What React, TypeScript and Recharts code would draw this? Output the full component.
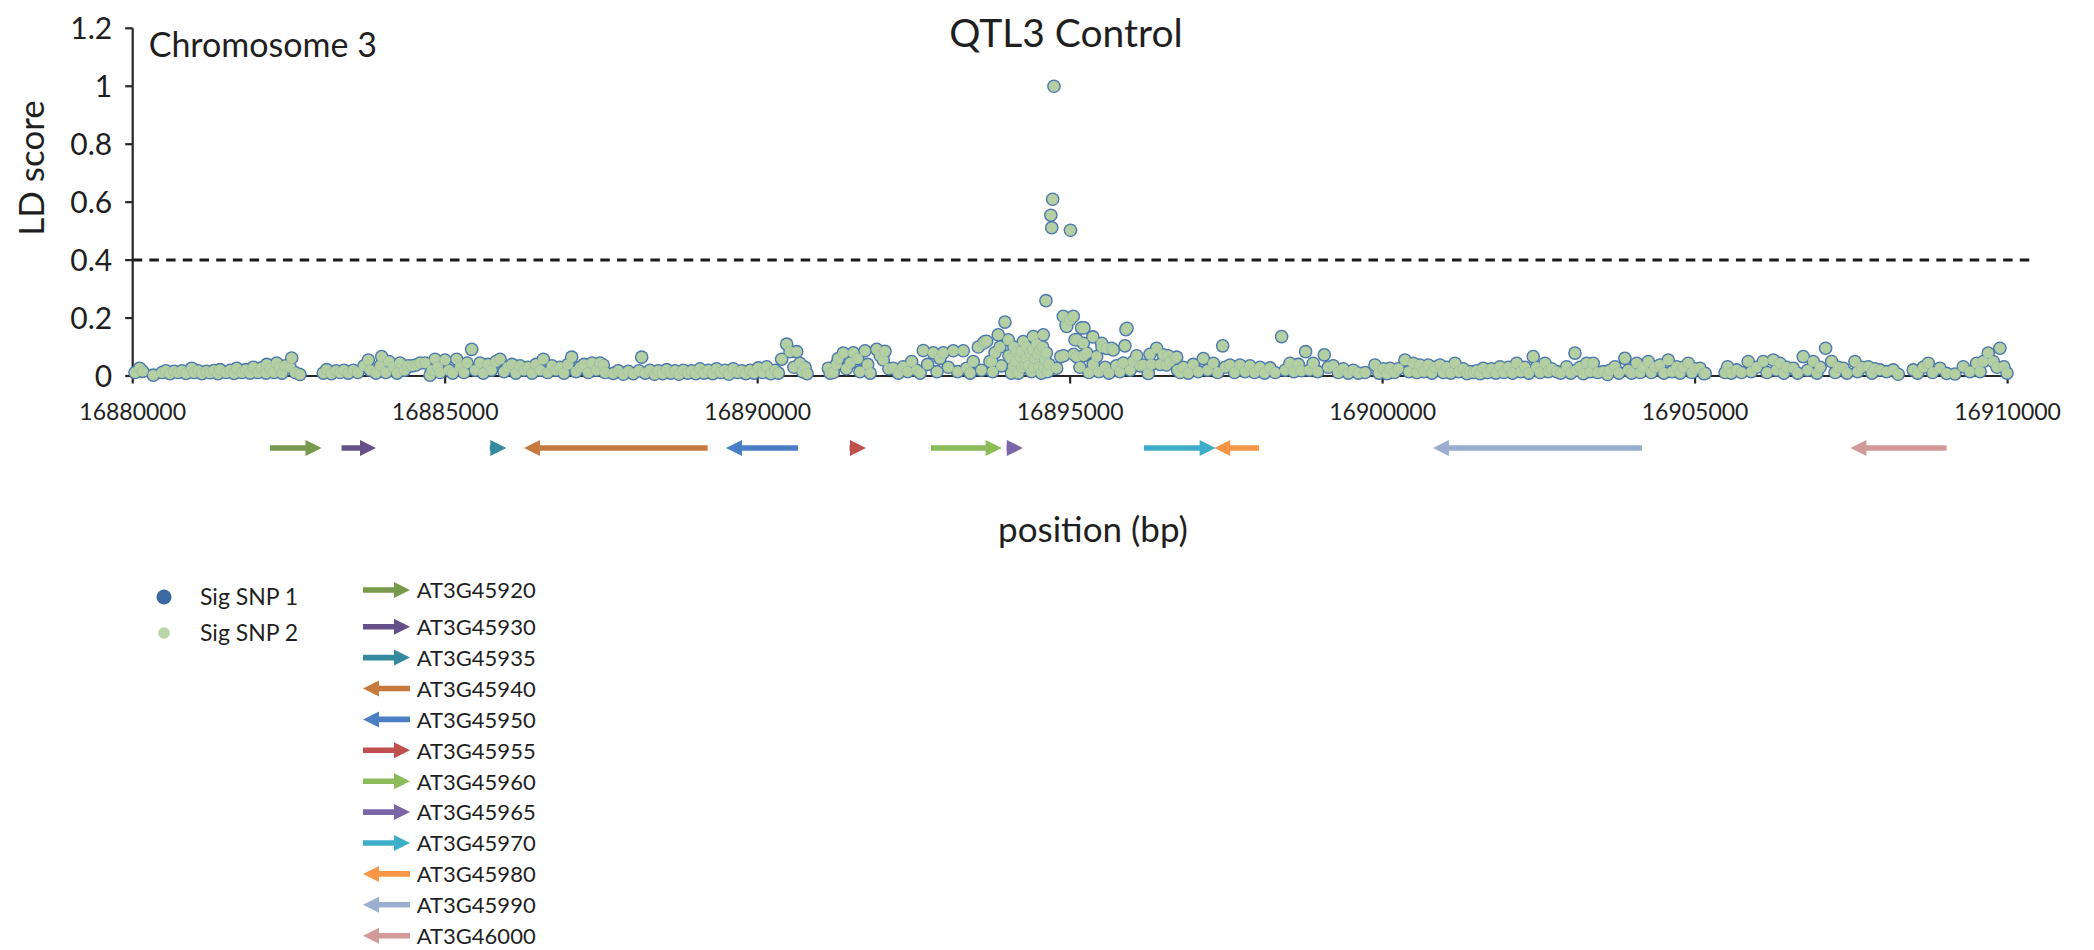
import { ReferenceArea, ReferenceLine, Scatter, ScatterChart, XAxis, YAxis } from "recharts";

const FONT = "Lato, 'Open Sans', sans-serif";
const INK = "#1f1f1f";
const SNP_FILL = "#b4d0a3";
const SNP_EDGE = "#4a76ae";

const WIDTH = 2094;
const PLOT_LEFT = 132.7;
const PLOT_RIGHT_GAP = 86.4;
const PLOT_TOP = 28.3;

const positionDomain: [number, number] = [16880000, 16910000];
const positionTicks = [16880000, 16885000, 16890000, 16895000, 16900000, 16905000, 16910000];
const ldTicks = [0, 0.2, 0.4, 0.6, 0.8, 1, 1.2];
const ldThreshold = 0.4;
const thresholdEnd = 16910390;

// [position bp, LD score]
const snpsWest: [number, number][] = [
  [16880037, 0.012], [16880110, 0.027], [16880160, 0.016], [16880330, 0.003],
  [16880469, 0.012], [16880530, 0.018], [16880597, 0.008], [16880660, 0.016], [16880725, 0.012],
  [16880790, 0.018], [16880853, 0.009], [16880944, 0.027], [16880981, 0.012], [16881050, 0.018],
  [16881109, 0.008], [16881180, 0.016], [16881237, 0.011], [16881300, 0.019], [16881365, 0.008],
  [16881397, 0.022], [16881493, 0.012], [16881560, 0.02], [16881621, 0.009], [16881664, 0.027],
  [16881749, 0.012], [16881810, 0.022], [16881877, 0.01], [16881930, 0.03], [16882005, 0.012],
  [16882060, 0.028], [16882133, 0.01], [16882144, 0.04], [16882200, 0.025], [16882261, 0.012],
  [16882304, 0.045], [16882350, 0.03], [16882389, 0.01], [16882440, 0.035], [16882517, 0.03],
  [16882544, 0.062], [16882600, 0.012], [16882677, 0.005],
  [16883050, 0.01], [16883104, 0.022], [16883180, 0.008], [16883253, 0.018], [16883317, 0.012],
  [16883381, 0.02], [16883450, 0.01], [16883530, 0.02], [16883600, 0.012], [16883700, 0.035],
  [16883770, 0.055], [16883800, 0.02], [16883893, 0.01], [16883960, 0.035], [16883984, 0.067],
  [16884050, 0.012], [16884100, 0.05], [16884170, 0.03], [16884230, 0.01], [16884277, 0.045],
  [16884350, 0.02], [16884405, 0.035], [16884470, 0.035], [16884533, 0.038], [16884600, 0.045],
  [16884680, 0.045], [16884757, 0.003], [16884790, 0.02], [16884837, 0.058], [16884880, 0.03],
  [16884917, 0.012], [16884997, 0.055], [16885060, 0.02], [16885120, 0.01], [16885184, 0.058],
  [16885240, 0.03], [16885300, 0.012], [16885350, 0.045], [16885424, 0.092], [16885480, 0.02],
  [16885557, 0.045], [16885610, 0.01], [16885685, 0.04], [16885740, 0.02], [16885813, 0.05],
  [16885877, 0.058], [16885941, 0.015], [16886000, 0.03], [16886069, 0.04], [16886130, 0.01],
  [16886197, 0.035], [16886260, 0.02], [16886325, 0.03], [16886390, 0.01], [16886453, 0.04],
  [16886520, 0.02], [16886570, 0.058], [16886640, 0.012], [16886709, 0.035], [16886770, 0.02],
  [16886837, 0.03], [16886900, 0.01], [16886965, 0.04], [16887024, 0.065], [16887093, 0.015],
  [16887160, 0.03], [16887221, 0.04], [16887290, 0.012], [16887349, 0.045], [16887420, 0.02],
  [16887477, 0.045],
];

const snpsMiddle: [number, number][] = [
  [16887530, 0.038], [16887560, 0.012], [16887690, 0.009], [16887770, 0.018], [16887850, 0.006],
  [16887930, 0.016], [16888010, 0.008], [16888100, 0.018], [16888144, 0.065], [16888200, 0.01],
  [16888277, 0.02], [16888350, 0.006], [16888410, 0.018], [16888480, 0.008], [16888544, 0.022],
  [16888610, 0.01], [16888677, 0.018], [16888740, 0.006], [16888810, 0.02], [16888880, 0.01],
  [16888944, 0.018], [16889010, 0.008], [16889077, 0.025], [16889140, 0.01], [16889210, 0.02],
  [16889280, 0.008], [16889344, 0.025], [16889410, 0.012], [16889477, 0.02], [16889540, 0.006],
  [16889610, 0.025], [16889680, 0.012], [16889744, 0.018], [16889810, 0.008], [16889877, 0.02],
  [16889940, 0.01], [16890010, 0.028], [16890080, 0.012], [16890144, 0.032], [16890210, 0.008],
  [16890277, 0.02], [16890330, 0.01], [16890384, 0.058], [16890464, 0.11], [16890517, 0.084],
  [16890580, 0.03], [16890624, 0.084], [16890677, 0.044], [16890720, 0.015], [16890757, 0.03],
  [16890790, 0.008],
  [16891130, 0.027], [16891160, 0.01], [16891210, 0.012], [16891260, 0.04], [16891290, 0.06],
  [16891370, 0.079], [16891420, 0.025], [16891480, 0.045], [16891530, 0.08], [16891600, 0.06],
  [16891637, 0.015], [16891717, 0.087], [16891760, 0.04], [16891800, 0.01], [16891904, 0.092],
  [16891960, 0.07], [16892010, 0.055], [16892037, 0.085], [16892100, 0.025], [16892170, 0.027],
  [16892250, 0.01], [16892330, 0.032], [16892400, 0.015], [16892464, 0.05], [16892544, 0.02],
  [16892600, 0.01], [16892650, 0.088], [16892720, 0.04], [16892810, 0.08], [16892870, 0.015],
  [16892917, 0.061], [16892970, 0.08], [16893050, 0.03], [16893130, 0.087], [16893200, 0.015],
  [16893290, 0.087], [16893344, 0.027], [16893400, 0.01],
];

const snpsPeak: [number, number][] = [
  [16893450, 0.05], [16893530, 0.1], [16893580, 0.02], [16893610, 0.113], [16893637, 0.119],
  [16893664, 0.12], [16893717, 0.05], [16893744, 0.05], [16893760, 0.015], [16893797, 0.08],
  [16893850, 0.142], [16893877, 0.1], [16893900, 0.035], [16893957, 0.186], [16894010, 0.125],
  [16894020, 0.07], [16894050, 0.06], [16894060, 0.01], [16894090, 0.032], [16894100, 0.1],
  [16894130, 0.05], [16894144, 0.084], [16894170, 0.01], [16894197, 0.067], [16894220, 0.085],
  [16894230, 0.03], [16894250, 0.119], [16894280, 0.04], [16894300, 0.06], [16894304, 0.1],
  [16894330, 0.035], [16894357, 0.079], [16894380, 0.015], [16894400, 0.09], [16894410, 0.136],
  [16894420, 0.03], [16894440, 0.06], [16894464, 0.11], [16894480, 0.075], [16894500, 0.03],
  [16894517, 0.09], [16894540, 0.01], [16894560, 0.1], [16894570, 0.142], [16894580, 0.03],
  [16894597, 0.055], [16894613, 0.26], [16894620, 0.08], [16894640, 0.015], [16894660, 0.04],
  [16894691, 0.555], [16894706, 0.512], [16894720, 0.61], [16894741, 1.0], [16894784, 0.027],
  [16894850, 0.067], [16894890, 0.206], [16894895, 0.07], [16894933, 0.177], [16894944, 0.171],
  [16894997, 0.194], [16895005, 0.503], [16895050, 0.206], [16895055, 0.075], [16895077, 0.125],
  [16895104, 0.067], [16895109, 0.125],
];

const snpsEast: [number, number][] = [
  [16895157, 0.03], [16895184, 0.166], [16895210, 0.113], [16895215, 0.07], [16895221, 0.166],
  [16895264, 0.079], [16895300, 0.012], [16895363, 0.135], [16895370, 0.04], [16895424, 0.067],
  [16895460, 0.015], [16895504, 0.113], [16895510, 0.1], [16895560, 0.03], [16895584, 0.095],
  [16895620, 0.01], [16895664, 0.096], [16895690, 0.09], [16895740, 0.035], [16895797, 0.015],
  [16895850, 0.045], [16895877, 0.104], [16895893, 0.16], [16895910, 0.165], [16895960, 0.02],
  [16896010, 0.05], [16896064, 0.07], [16896120, 0.035], [16896170, 0.038], [16896250, 0.009],
  [16896277, 0.075], [16896300, 0.04], [16896384, 0.096], [16896440, 0.04], [16896490, 0.073],
  [16896540, 0.038], [16896570, 0.07], [16896597, 0.05], [16896677, 0.061], [16896704, 0.065],
  [16896720, 0.02], [16896760, 0.012], [16896810, 0.03], [16896890, 0.01], [16896970, 0.04],
  [16897050, 0.015], [16897130, 0.06], [16897200, 0.02], [16897290, 0.044], [16897360, 0.012],
  [16897440, 0.104], [16897480, 0.03], [16897557, 0.038], [16897630, 0.012], [16897717, 0.038],
  [16897800, 0.015], [16897877, 0.035], [16897950, 0.012], [16898037, 0.03], [16898110, 0.01],
  [16898197, 0.028], [16898280, 0.012], [16898384, 0.136], [16898440, 0.02], [16898517, 0.044],
  [16898580, 0.015], [16898650, 0.04], [16898700, 0.018], [16898768, 0.084], [16898830, 0.02],
  [16898890, 0.044], [16898960, 0.015], [16899066, 0.073], [16899130, 0.03], [16899210, 0.035],
  [16899290, 0.012], [16899370, 0.025], [16899450, 0.01], [16899530, 0.02], [16899610, 0.01],
  [16899720, 0.012], [16899877, 0.038], [16899940, 0.01], [16900010, 0.025], [16900070, 0.008],
  [16900117, 0.027], [16900190, 0.012], [16900250, 0.025], [16900357, 0.055], [16900420, 0.015],
  [16900490, 0.044], [16900550, 0.012], [16900597, 0.038], [16900660, 0.015], [16900730, 0.038],
  [16900790, 0.01], [16900837, 0.03], [16900917, 0.038], [16900970, 0.012], [16901024, 0.03],
  [16901090, 0.01], [16901157, 0.044], [16901220, 0.015], [16901290, 0.025], [16901350, 0.008],
  [16901397, 0.015], [16901460, 0.012], [16901504, 0.018], [16901560, 0.008], [16901610, 0.027],
  [16901680, 0.012], [16901744, 0.025], [16901810, 0.01], [16901877, 0.032], [16901940, 0.012],
  [16902010, 0.03], [16902080, 0.01], [16902144, 0.044], [16902210, 0.015], [16902277, 0.03],
  [16902340, 0.01], [16902410, 0.067], [16902460, 0.03], [16902520, 0.012], [16902597, 0.044],
  [16902650, 0.015], [16902704, 0.025], [16902784, 0.015],
];

const snpsFar: [number, number][] = [
  [16902850, 0.01], [16902944, 0.032], [16903010, 0.01], [16903077, 0.079], [16903100, 0.02],
  [16903157, 0.03], [16903210, 0.008], [16903264, 0.044], [16903320, 0.015], [16903370, 0.044],
  [16903440, 0.012], [16903530, 0.015], [16903600, 0.005], [16903637, 0.02], [16903717, 0.032],
  [16903780, 0.01], [16903877, 0.061], [16903930, 0.02], [16903984, 0.01], [16904064, 0.044],
  [16904120, 0.012], [16904170, 0.03], [16904250, 0.05], [16904300, 0.012], [16904357, 0.03],
  [16904437, 0.038], [16904500, 0.01], [16904570, 0.055], [16904630, 0.015], [16904704, 0.032],
  [16904760, 0.01], [16904810, 0.03], [16904890, 0.044], [16904950, 0.012], [16904997, 0.025],
  [16905077, 0.027], [16905140, 0.008], [16905160, 0.009],
  [16905480, 0.012], [16905520, 0.032], [16905580, 0.01], [16905664, 0.021], [16905744, 0.012],
  [16905850, 0.05], [16905900, 0.015], [16905984, 0.03], [16906090, 0.05], [16906150, 0.012],
  [16906250, 0.055], [16906300, 0.02], [16906357, 0.044], [16906420, 0.01], [16906464, 0.03],
  [16906570, 0.027], [16906640, 0.01], [16906730, 0.067], [16906800, 0.02], [16906890, 0.05],
  [16906950, 0.01], [16907000, 0.03], [16907088, 0.096], [16907184, 0.05], [16907240, 0.012],
  [16907290, 0.03], [16907370, 0.027], [16907430, 0.01], [16907557, 0.05], [16907600, 0.015],
  [16907664, 0.03], [16907770, 0.032], [16907830, 0.01], [16907877, 0.025], [16907957, 0.021],
  [16908064, 0.015], [16908170, 0.021], [16908250, 0.006],
  [16908490, 0.021], [16908560, 0.01], [16908650, 0.03], [16908730, 0.044], [16908800, 0.012],
  [16908917, 0.027], [16909024, 0.009], [16909157, 0.007], [16909290, 0.032], [16909397, 0.015],
  [16909504, 0.044], [16909560, 0.015], [16909610, 0.05], [16909690, 0.079], [16909770, 0.05],
  [16909830, 0.03], [16909877, 0.096], [16909940, 0.032], [16909990, 0.01],
];

const geneIds = [
  "AT3G45920", "AT3G45930", "AT3G45935", "AT3G45940", "AT3G45950", "AT3G45955",
  "AT3G45960", "AT3G45965", "AT3G45970", "AT3G45980", "AT3G45990", "AT3G46000",
];
const geneStarts = [
  16882197, 16883342, 16885714, 16886261, 16889493, 16891470,
  16892773, 16893982, 16896181, 16897306, 16900805, 16907485,
];
const geneEnds = [
  16883021, 16883893, 16885979, 16889200, 16890645, 16891733,
  16893904, 16894242, 16897328, 16898021, 16904149, 16909024,
];
const geneStrands = ["+", "+", "+", "-", "-", "+", "+", "+", "+", "-", "-", "-"];
const geneColors = [
  "#77994a", "#65508a", "#348b9f", "#c87a3e", "#4a7fc4", "#c0504d",
  "#8cbb5a", "#7b64a8", "#3eaec8", "#f79646", "#9aafd0", "#d49a9a",
];

const snpRows = [...snpsWest, ...snpsMiddle, ...snpsPeak, ...snpsEast, ...snpsFar].map(([pos, ld]) => ({
  pos,
  ld,
}));

const genes = geneIds.map((id, i) => ({
  id,
  start: geneStarts[i],
  end: geneEnds[i],
  strand: geneStrands[i],
  color: geneColors[i],
}));

// anchor rows so the gene track has data to lay out its axes
const geneTrackRows = genes.map((g) => ({ pos: g.start, lane: 0.5 }));

function arrowPath(x: number, y: number, w: number, h: number, strand: string): string {
  const mid = y + h / 2;
  const head = Math.min(16, w);
  const half = 2.8;
  if (strand === "+") {
    const b = x + w - head;
    return `M${x},${mid - half}L${b},${mid - half}L${b},${y}L${x + w},${mid}L${b},${y + h}L${b},${mid + half}L${x},${mid + half}Z`;
  }
  const b = x + head;
  return `M${x + w},${mid - half}L${b},${mid - half}L${b},${y}L${x},${mid}L${b},${y + h}L${b},${mid + half}L${x + w},${mid + half}Z`;
}

function SnpHalo(props: any) {
  const { cx, cy } = props;
  if (cx == null || cy == null) return <g />;
  return <circle cx={cx} cy={cy} r={6.8} fill={SNP_EDGE} />;
}

function SnpDot(props: any) {
  const { cx, cy } = props;
  if (cx == null || cy == null) return <g />;
  return (
    <circle cx={cx} cy={cy} r={5.5} fill={SNP_FILL} stroke={SNP_EDGE} strokeOpacity={0.16} strokeWidth={1} />
  );
}

function Nothing() {
  return <g />;
}

const axisStroke = { stroke: "#262626", strokeWidth: 2.2 };

export default function App() {
  const legendRowY = geneIds.map((_id, i) => (i === 0 ? 590 : 626.7 + (i - 1) * 30.9));

  return (
    <div style={{ position: "absolute", left: 0, top: 0, width: WIDTH, height: 950, background: "#fff" }}>
      <div style={{ position: "absolute", left: 0, top: 0 }}>
        <ScatterChart
          width={WIDTH}
          height={440}
          margin={{ top: PLOT_TOP, right: PLOT_RIGHT_GAP, bottom: 0, left: 0 }}
        >
          <XAxis
            type="number"
            dataKey="pos"
            domain={positionDomain}
            ticks={positionTicks}
            interval={0}
            height={64}
            tickSize={7.5}
            tickMargin={20}
            axisLine={axisStroke}
            tickLine={axisStroke}
            tick={{ fontSize: 23, fill: INK, fontFamily: FONT }}
          />
          <YAxis
            type="number"
            dataKey="ld"
            domain={[0, 1.2]}
            ticks={ldTicks}
            interval={0}
            width={PLOT_LEFT}
            tickSize={7.5}
            tickMargin={13}
            axisLine={axisStroke}
            tickLine={axisStroke}
            tick={{ fontSize: 30, fill: INK, fontFamily: FONT }}
          />
          <ReferenceLine
            segment={[
              { x: positionDomain[0], y: ldThreshold },
              { x: thresholdEnd, y: ldThreshold },
            ]}
            ifOverflow="visible"
            stroke="#1a1a1a"
            strokeWidth={3}
            strokeDasharray="9.5 7.2"
          />
          <Scatter data={snpRows} shape={SnpHalo} isAnimationActive={false} />
          <Scatter data={snpRows} shape={SnpDot} isAnimationActive={false} />
        </ScatterChart>
      </div>

      <div style={{ position: "absolute", left: 0, top: 440 }}>
        <ScatterChart
          width={WIDTH}
          height={16}
          margin={{ top: 0, right: PLOT_RIGHT_GAP, bottom: 0, left: PLOT_LEFT }}
        >
          <XAxis type="number" dataKey="pos" domain={positionDomain} hide />
          <YAxis type="number" dataKey="lane" domain={[0, 1]} hide />
          <Scatter data={geneTrackRows} shape={Nothing} isAnimationActive={false} />
          {genes.map((g) => (
            <ReferenceArea
              key={g.id}
              x1={g.start}
              x2={g.end}
              y1={0}
              y2={1}
              ifOverflow="visible"
              fill={g.color}
              fillOpacity={1}
              shape={(p: any) => (
                <path d={arrowPath(p.x, p.y, p.width, p.height, g.strand)} fill={g.color} />
              )}
            />
          ))}
        </ScatterChart>
      </div>

      <svg
        width={WIDTH}
        height={950}
        style={{ position: "absolute", left: 0, top: 0, pointerEvents: "none" }}
        fontFamily={FONT}
        fill={INK}
      >
        <text x={1066} y={47} fontSize={39} textAnchor="middle">
          QTL3 Control
        </text>
        <text x={148.7} y={56.5} fontSize={34}>
          Chromosome 3
        </text>
        <text x={44} y={168} fontSize={35} textAnchor="middle" transform="rotate(-90 44 168)">
          LD score
        </text>
        <text x={1093} y={541.5} fontSize={35} textAnchor="middle">
          position (bp)
        </text>

        <circle cx={164} cy={597} r={7.5} fill="#3b6aa0" />
        <text x={200} y={605} fontSize={23}>
          Sig SNP 1
        </text>
        <circle cx={164} cy={633} r={5.8} fill="#b7d5a8" />
        <text x={200} y={641} fontSize={23}>
          Sig SNP 2
        </text>

        {genes.map((g, i) => (
          <g key={g.id}>
            <path d={arrowPath(363, legendRowY[i] - 8, 47, 16, g.strand)} fill={g.color} />
            <text x={416.7} y={legendRowY[i] + 8.3} fontSize={22}>
              {g.id}
            </text>
          </g>
        ))}
      </svg>
    </div>
  );
}
